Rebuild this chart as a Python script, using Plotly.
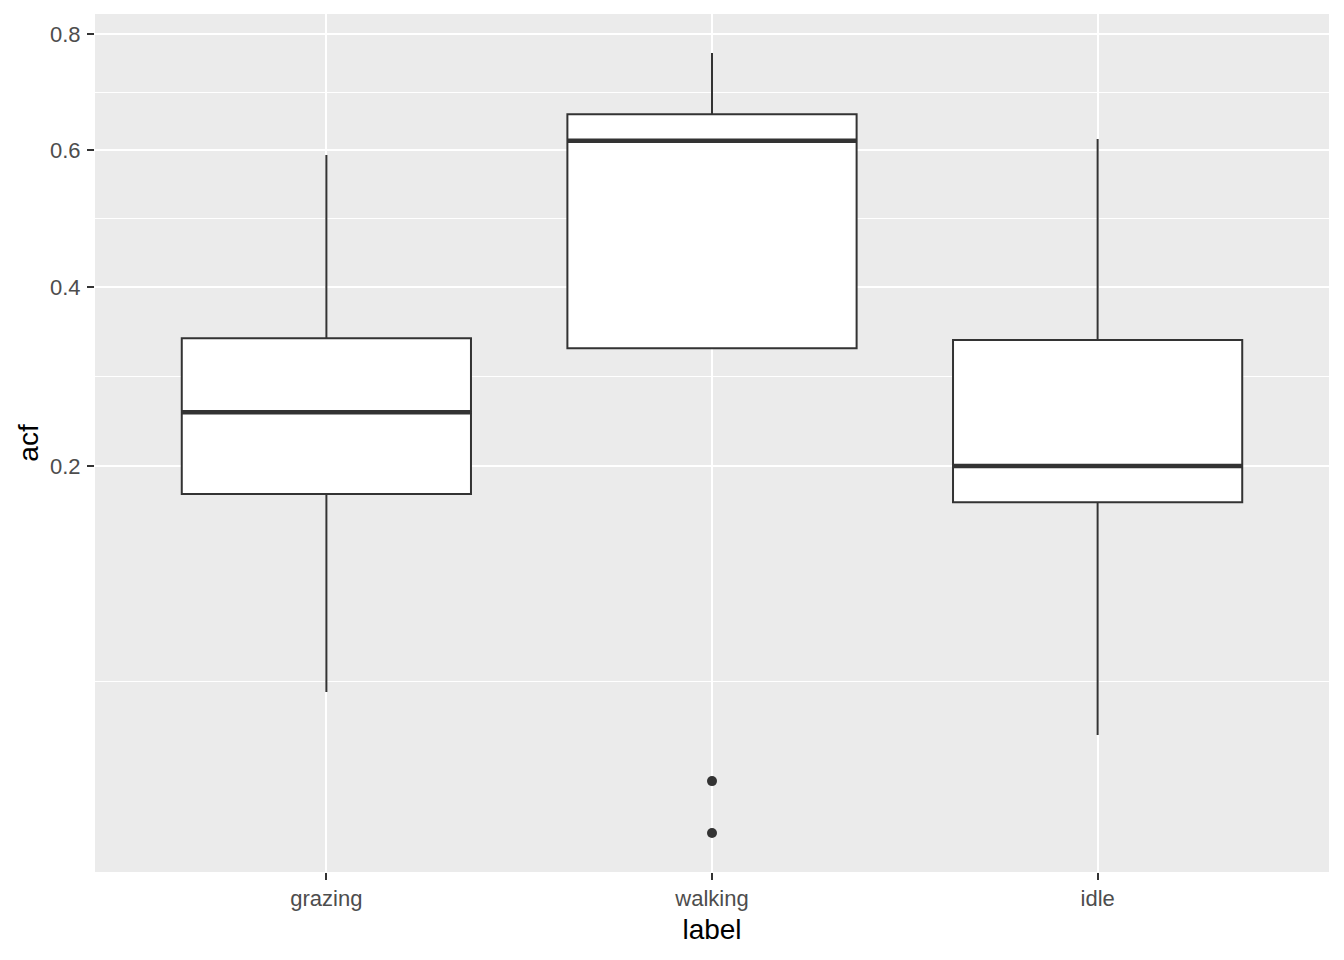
import numpy as np
import plotly.graph_objects as go

# ---- data (original acf units) ----
labels = ["grazing", "walking", "idle"]
q1 = [0.175, 0.324, 0.168]
medians = [0.253, 0.615, 0.200]
q3 = [0.336, 0.659, 0.334]
lower_whisker = [0.0454, 0.324, 0.0284]
upper_whisker = [0.592, 0.766, 0.618]
outlier_label = ["walking", "walking"]
outlier_values = [0.0146, 0.0045]
y_breaks = [0.2, 0.4, 0.6, 0.8]
y_break_labels = ["0.2", "0.4", "0.6", "0.8"]

# ---- sqrt transform (scale_y_sqrt) ----
tr = np.sqrt
xpos = list(range(len(labels)))
box_w = 0.75
ink = "#333333"

fig = go.Figure()
fig.add_trace(go.Box(
    x=xpos,
    q1=tr(q1), median=tr(medians), q3=tr(q3),
    lowerfence=tr(lower_whisker), upperfence=tr(upper_whisker),
    width=box_w, whiskerwidth=0,
    fillcolor="white", line=dict(color=ink, width=2),
    boxpoints=False, hoverinfo="skip", showlegend=False,
))
# thicker median lines
for i, m in enumerate(medians):
    fig.add_trace(go.Scatter(
        x=[xpos[i] - box_w / 2, xpos[i] + box_w / 2], y=[tr(m), tr(m)],
        mode="lines", line=dict(color=ink, width=4.5),
        showlegend=False, hoverinfo="skip",
    ))
# outliers
fig.add_trace(go.Scatter(
    x=[labels.index(l) for l in outlier_label], y=tr(outlier_values),
    mode="markers", marker=dict(color=ink, size=10, line=dict(width=0)),
    showlegend=False, hoverinfo="skip",
))

# y range with 5% expansion in transformed space
all_vals = tr(np.array(lower_whisker + upper_whisker + outlier_values))
lo, hi = all_vals.min(), all_vals.max()
pad = 0.05 * (hi - lo)
major_t = tr(y_breaks)
ext = np.concatenate([[0.0], major_t, [1.0]])
minor_t = [(a + b) / 2 for a, b in zip(ext[:-1], ext[1:])]
minor_t = [v for v in minor_t if lo - pad <= v <= hi + pad]

font_fam = "Arial, Liberation Sans, sans-serif"
fig.update_layout(
    width=1328, height=944,
    margin=dict(l=87, r=7, t=6, b=80),
    paper_bgcolor="white", plot_bgcolor="#EBEBEB",
    font=dict(family=font_fam),
    xaxis=dict(
        range=[-0.6, len(labels) - 0.4],
        tickmode="array", tickvals=xpos, ticktext=labels,
        showgrid=True, gridcolor="white", gridwidth=2,
        zeroline=False, showline=False,
        ticks="outside", ticklen=7, tickwidth=2, tickcolor=ink,
        tickfont=dict(size=22, color="#4D4D4D"),
        title=dict(text="label", font=dict(size=28, color="black"), standoff=8),
    ),
    yaxis=dict(
        range=[lo - pad, hi + pad],
        tickmode="array", tickvals=major_t, ticktext=y_break_labels,
        showgrid=True, gridcolor="white", gridwidth=2,
        zeroline=False, showline=False,
        ticks="outside", ticklen=7, tickwidth=2, tickcolor=ink,
        ticklabelstandoff=2,
        tickfont=dict(size=22, color="#4D4D4D"),
        title=dict(text="acf", font=dict(size=28, color="black"), standoff=3),
        minor=dict(tickvals=minor_t, showgrid=True, gridcolor="white",
                   gridwidth=1, ticks=""),
    ),
)
fig.write_html("out.html")
